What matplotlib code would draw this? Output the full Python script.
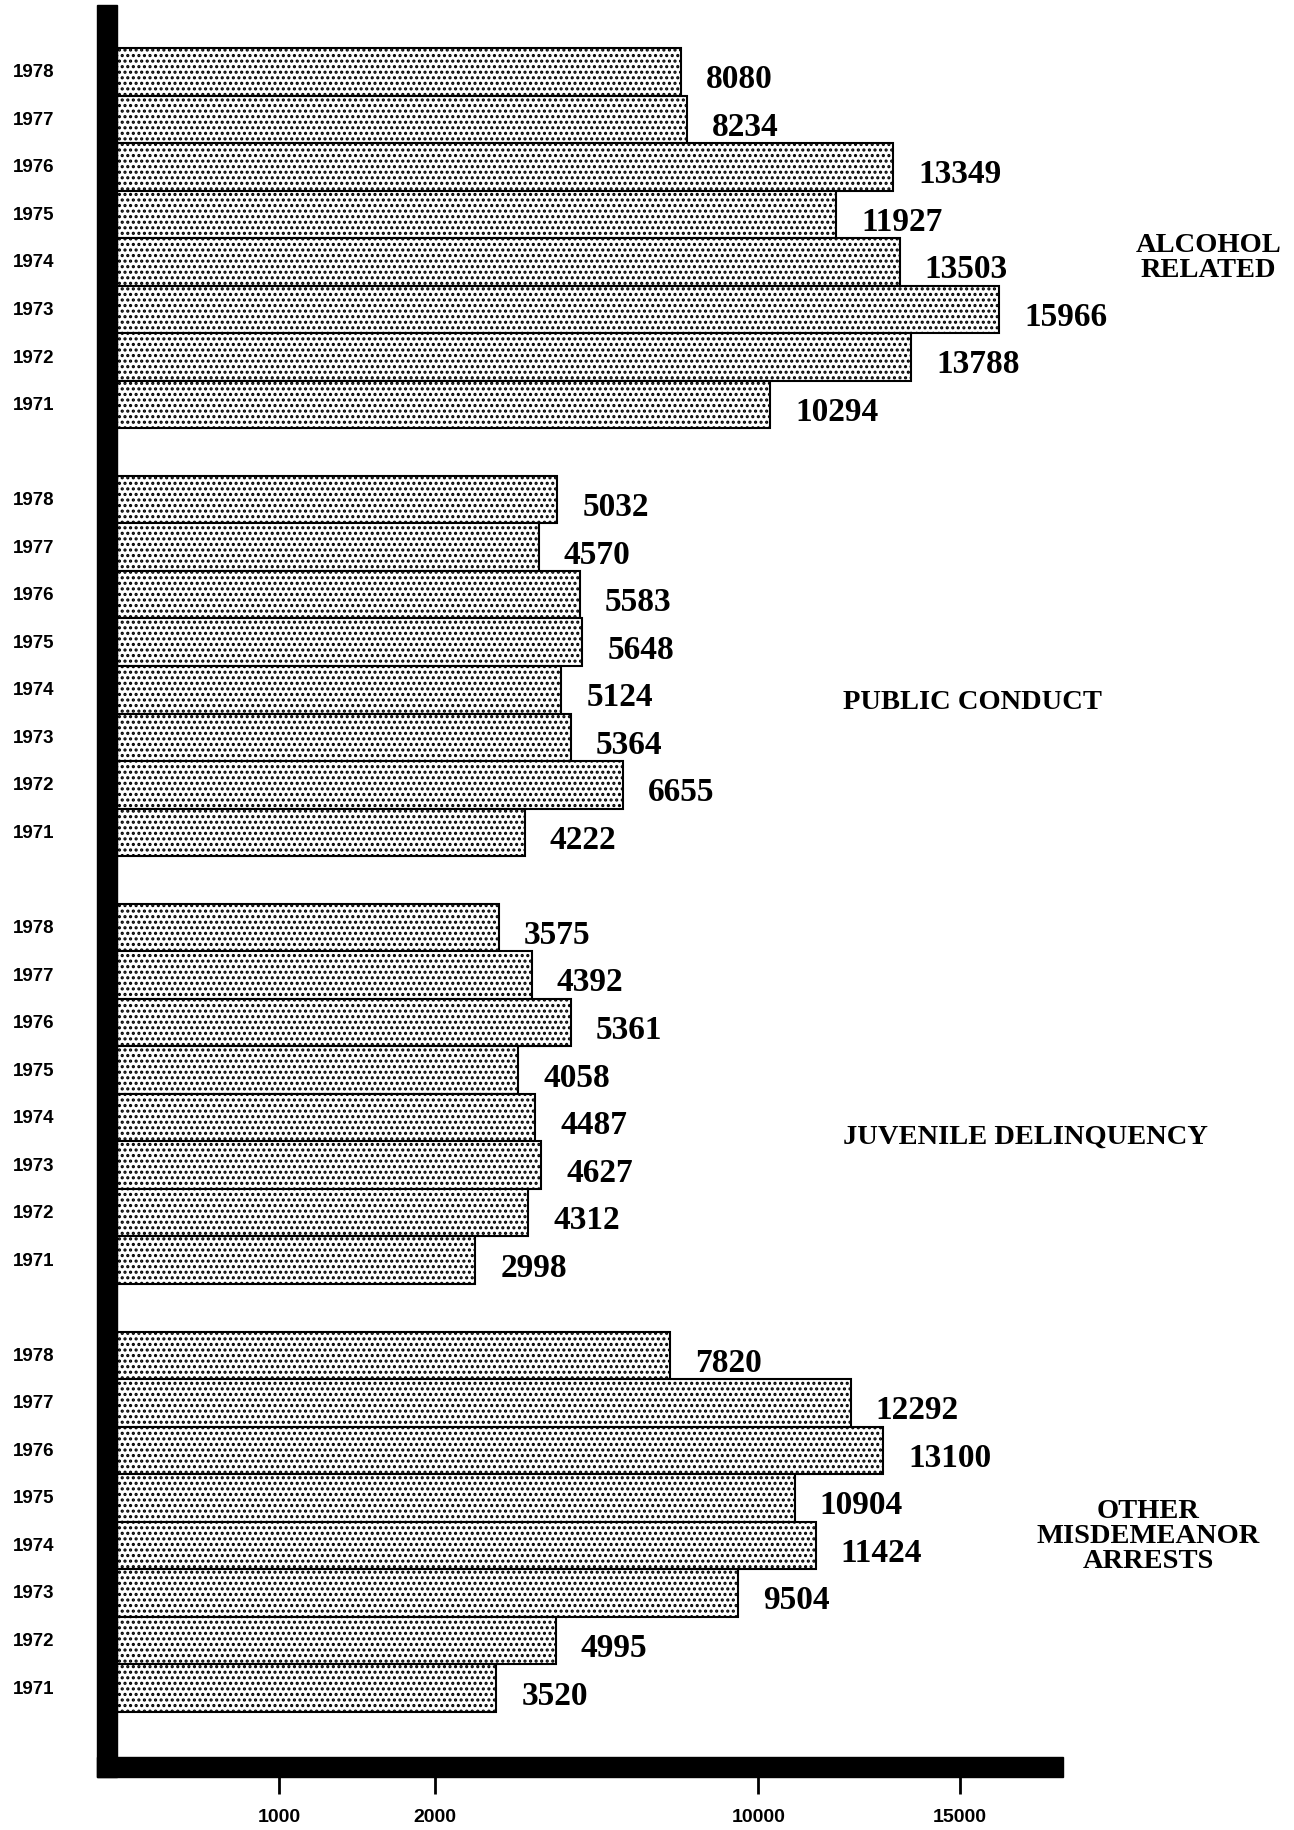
import numpy as np
import matplotlib
matplotlib.use("Agg")
import matplotlib.pyplot as plt
import matplotlib.transforms as mtransforms
from matplotlib.patches import Rectangle

# dati (arresti per anno, dal 1978 al 1971)
years = ["1978", "1977", "1976", "1975", "1974", "1973", "1972", "1971"]
categories = ["ALCOHOL\nRELATED", "PUBLIC CONDUCT", "JUVENILE DELINQUENCY",
              "OTHER\nMISDEMEANOR\nARRESTS"]
alcohol = [8080, 8234, 13349, 11927, 13503, 15966, 13788, 10294]
public_conduct = [5032, 4570, 5583, 5648, 5124, 5364, 6655, 4222]
juvenile = [3575, 4392, 5361, 4058, 4487, 4627, 4312, 2998]
other = [7820, 12292, 13100, 10904, 11424, 9504, 4995, 3520]
tick_values = [1000, 2000, 10000, 15000]

plt.rcParams["hatch.linewidth"] = 1.5

W, H = 1294, 1831
fig = plt.figure(figsize=(W / 100, H / 100), dpi=100)
fig.patch.set_facecolor("white")

# asse in pixel: sinistra 117, destra 1063, alto 6, basso 1758
ax = fig.add_axes([117 / W, 1 - 1758 / H, (1063 - 117) / W, (1758 - 6) / H])

# scala a tratti: 0-2000 allargata, oltre compressa (come nell'originale)
knots_v = [0, 1000, 2000, 30000]
knots_p = [0, 162, 318, 318 + 0.0404 * 28000]


def forward(v):
    return np.interp(v, knots_v, knots_p)


def inverse(p):
    return np.interp(p, knots_p, knots_v)


ax.set_xscale("function", functions=(forward, inverse))

serif = "Liberation Serif"
sans = "Liberation Sans"

series = [alcohol, public_conduct, juvenile, other]
# posizione delle etichette di categoria (x in frazione d'asse, y relativo al gruppo)
label_x = [1.154, 0.904, 0.960, 1.090]
label_dy = [3.9, 4.25, 4.4, 3.8]
blend_ax = mtransforms.blended_transform_factory(ax.transAxes, ax.transData)
blend_fig = mtransforms.blended_transform_factory(fig.transFigure, ax.transData)

for g, vals in enumerate(series):
    ypos = [g * 9 + i for i in range(len(vals))]
    ax.barh(ypos, vals, height=1.0, left=0, color="white", edgecolor="black",
            linewidth=1.5, hatch="...")
    for y, v in zip(ypos, vals):
        ax.annotate(str(v), (v, y), xytext=(18, -5), textcoords="offset points",
                    ha="left", va="center", fontsize=24, fontweight="bold",
                    family=serif, annotation_clip=False)
    for y, yr in zip(ypos, years):
        ax.text(34 / W, y, yr, transform=blend_fig, ha="center", va="center",
                fontsize=13.5, fontweight="bold", family=sans)
    ax.text(label_x[g], g * 9 + label_dy[g], categories[g], transform=blend_ax,
            ha="center", va="center", fontsize=20.5, fontweight="bold",
            family=serif, linespacing=1.0, multialignment="center",
            clip_on=False)

ax.set_xlim(0, 17545)
ax.set_ylim(34 + 1.45, -1.405)

for s in ax.spines.values():
    s.set_visible(False)
ax.set_yticks([])
ax.set_xticks(tick_values)
ax.set_xticklabels([str(t) for t in tick_values], fontsize=14, fontweight="bold",
                   family=sans)
ax.tick_params(axis="x", length=0, pad=37)
ax.minorticks_off()

# tacche sotto la barra nera (da 1778 a 1795 px)
tick_tr = mtransforms.blended_transform_factory(ax.transData, ax.transAxes)
ax.vlines(tick_values, -37 / 1752, 0, transform=tick_tr, colors="black",
          linewidth=2, clip_on=False)

# barre nere degli assi (spesse come nell'originale)
fig.add_artist(Rectangle((97 / W, 1 - 1778 / H), 20 / W, (1778 - 6) / H,
                         transform=fig.transFigure, color="black", zorder=5))
fig.add_artist(Rectangle((97 / W, 1 - 1778 / H), (1063 - 97) / W, 20 / H,
                         transform=fig.transFigure, color="black", zorder=5))

fig.savefig("out.png", dpi=100, facecolor="white")
